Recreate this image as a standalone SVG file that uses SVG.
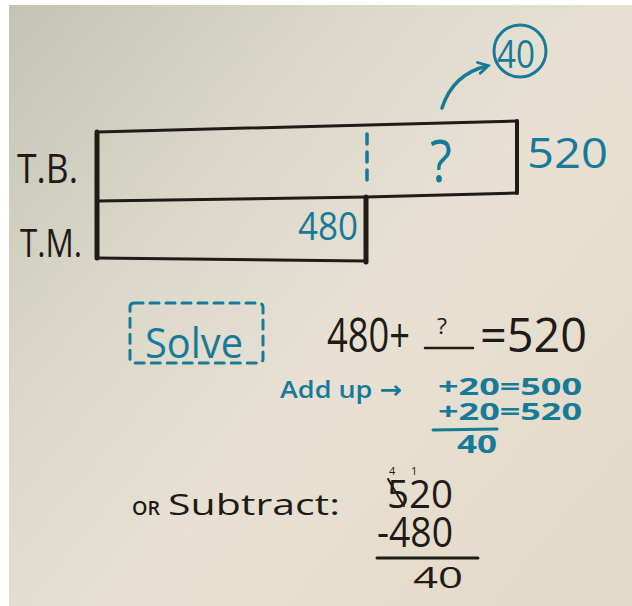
<svg xmlns="http://www.w3.org/2000/svg" width="632" height="606" viewBox="0 0 632 606">
<defs>
<linearGradient id="bg" x1="0" y1="0" x2="1" y2="0.8">
<stop offset="0" stop-color="#c4c3b4"/>
<stop offset="0.3" stop-color="#d9d6c8"/>
<stop offset="0.6" stop-color="#e8e1d3"/>
<stop offset="1" stop-color="#e4dac9"/>
</linearGradient>
<marker id="ah" viewBox="0 0 10 10" refX="7" refY="5" markerWidth="4" markerHeight="4" orient="auto" markerUnits="strokeWidth">
<path d="M1,1 L8,5 L1,9" fill="none" stroke="#177a99" stroke-width="2" stroke-linecap="round"/>
</marker>
<style>
.ink{fill:none;stroke:#1f1b17;stroke-linecap:round;stroke-linejoin:round}
.blu{fill:none;stroke:#177a99;stroke-linecap:round;stroke-linejoin:round}
.tk{font-family:"Open Sans","DejaVu Sans",sans-serif;fill:#1f1b17}
.tb{font-family:"Open Sans","DejaVu Sans",sans-serif;fill:#177a99}
.bold{font-weight:700}
.semi{font-weight:600}
</style>
</defs>
<rect x="0" y="0" width="632" height="606" fill="#ffffff"/>
<rect x="9" y="5" width="623" height="601" fill="url(#bg)"/>

<g id="label-tb"><text class="tk" x="17" y="183" font-size="40" textLength="61" lengthAdjust="spacingAndGlyphs">T.B.</text></g>
<g id="label-tm"><text class="tk" x="20" y="257" font-size="38" textLength="62" lengthAdjust="spacingAndGlyphs">T.M.</text></g>

<g id="bar-tb">
<path class="ink" d="M97,132 L517,121" stroke-width="3"/>
<path class="ink" d="M517,121 L517,193" stroke-width="4"/>
<path class="ink" d="M517,193 L366,197 L97,201" stroke-width="3"/>
<path class="ink" d="M97,132 L97,258" stroke-width="5"/>
<path class="blu" d="M367,134 L367,185" stroke-width="3.5" stroke-dasharray="10 8"/>
<text class="tb" x="430" y="182" font-size="58" textLength="22" lengthAdjust="spacingAndGlyphs">?</text>
</g>
<g id="total-520"><text class="tb" x="527" y="168" font-size="42" textLength="81" lengthAdjust="spacingAndGlyphs">520</text></g>

<g id="bar-tm">
<path class="ink" d="M366,197 L366,262" stroke-width="5"/>
<path class="ink" d="M97,258 L366,261" stroke-width="3"/>
<text class="tb" x="298" y="240" font-size="38" textLength="60" lengthAdjust="spacingAndGlyphs">480</text>
</g>

<g id="answer-40">
<circle class="blu" cx="520" cy="51" r="26" stroke-width="3"/>
<text class="tb" x="497" y="68" font-size="38" textLength="38" lengthAdjust="spacingAndGlyphs">40</text>
</g>

<g id="connectors">
<path class="blu" d="M442,108 Q453,74 487,66" stroke-width="3.5" marker-end="url(#ah)"/>
</g>

<g id="solve">
<rect class="blu" x="130" y="303" width="133" height="60" rx="4" stroke-width="3" stroke-dasharray="9 7"/>
<text class="tb" x="145" y="358" font-size="42" textLength="98" lengthAdjust="spacingAndGlyphs">Solve</text>
</g>

<g id="equation">
<text class="tk" x="327" y="352" font-size="48" textLength="83" lengthAdjust="spacingAndGlyphs">480+</text>
<text class="tk" x="437" y="334" font-size="22" textLength="10" lengthAdjust="spacingAndGlyphs">?</text>
<path class="ink" d="M425,348 L473,348" stroke-width="2.5"/>
<text class="tk" x="480" y="352" font-size="48" textLength="107" lengthAdjust="spacingAndGlyphs">=520</text>
</g>

<g id="add-up">
<text class="tb semi" x="280" y="398" font-size="24" textLength="122" lengthAdjust="spacingAndGlyphs">Add up →</text>
<text class="tb bold" x="438" y="395" font-size="24" textLength="144" lengthAdjust="spacingAndGlyphs">+20=500</text>
<text class="tb bold" x="438" y="420" font-size="24" textLength="144" lengthAdjust="spacingAndGlyphs">+20=520</text>
<path class="blu" d="M433,430 L497,429" stroke-width="3"/>
<text class="tb bold" x="457" y="453" font-size="25" textLength="40" lengthAdjust="spacingAndGlyphs">40</text>
</g>

<g id="subtract">
<text class="tk semi" x="132" y="515" font-size="19" textLength="28" lengthAdjust="spacingAndGlyphs">OR</text>
<text class="tk" x="168" y="515" font-size="30" textLength="172" lengthAdjust="spacingAndGlyphs">Subtract:</text>
<text class="tk" x="389" y="475" font-size="11">4</text>
<text class="tk" x="411" y="475" font-size="11">1</text>
<text class="tk" x="387" y="508" font-size="39" textLength="66" lengthAdjust="spacingAndGlyphs">520</text>
<path class="ink" d="M388,479 L404,506" stroke-width="2"/>
<text class="tk" x="377" y="547" font-size="42" textLength="76" lengthAdjust="spacingAndGlyphs">-480</text>
<path class="ink" d="M377,558 L478,558" stroke-width="3"/>
<text class="tk" x="413" y="588" font-size="30" textLength="50" lengthAdjust="spacingAndGlyphs">40</text>
</g>
</svg>
